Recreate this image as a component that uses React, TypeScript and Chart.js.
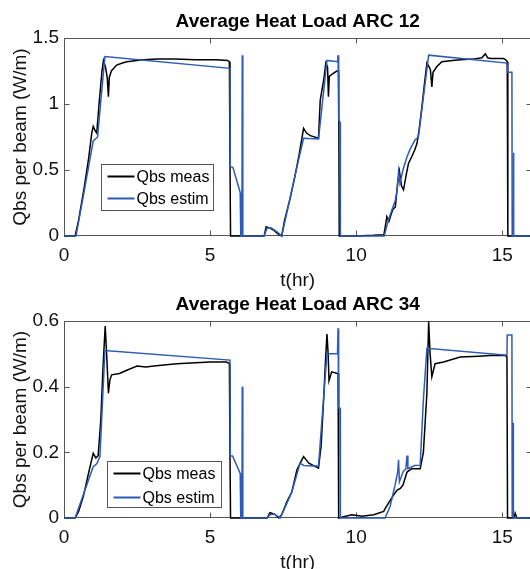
import React, { useEffect, useRef } from 'react';
import { Chart, registerables } from 'chart.js';

Chart.register(...registerables);

const FONT = "'Liberation Sans', Arial, Helvetica, sans-serif";

// ---------- shared axis / label data ----------
const X_TICKS = [0, 5, 10, 15];
const X_MIN = 0;
const X_MAX = 16;
const X_TITLE = 't(hr)';
const Y_TITLE = 'Qbs per beam (W/m)';
const SERIES_NAMES = ['Qbs meas', 'Qbs estim'];
const MEAS_COLOR = '#000000';
const EST_COLOR = '#2D5BB5';

// ---------- ARC 12 ----------
const ARC12_TITLE = 'Average Heat Load ARC 12';
const ARC12_Y_TICKS = [0, 0.5, 1, 1.5];
const ARC12_MEAS_T = [
  0, 0.38, 0.5, 0.7, 0.85, 0.95, 1.0, 1.06, 1.12, 1.2, 1.3, 1.35, 1.42, 1.48, 1.52, 1.55, 1.62, 1.8, 2.0, 2.15,
  2.7, 3.2, 3.8, 4.5, 5.2, 5.6, 5.66, 5.68, 5.7, 6.85, 6.92, 7.05, 7.2, 7.3, 7.45, 7.55, 7.74, 7.9, 8.05, 8.2,
  8.3, 8.43, 8.71, 8.77, 8.9, 8.96, 9.02, 9.05, 9.08, 9.2, 9.34, 9.4, 9.42, 10.0, 10.6, 10.95, 11.05, 11.12, 11.25, 11.34,
  11.42, 11.48, 11.55, 11.62, 11.7, 11.79, 11.9, 12.0, 12.08, 12.15, 12.25, 12.35, 12.42, 12.5, 12.54, 12.59, 12.63, 12.75, 12.93, 13.3,
  13.58, 14.0, 14.3, 14.42, 14.5, 14.6, 14.9, 15.05, 15.14, 15.17, 15.19, 16,
];
const ARC12_MEAS_V = [
  0, 0, 0.12, 0.38, 0.6, 0.78, 0.83, 0.8, 0.78, 1.0, 1.25, 1.33, 1.28, 1.2, 1.055, 1.2, 1.25, 1.295, 1.31, 1.32,
  1.335, 1.34, 1.34, 1.335, 1.335, 1.33, 1.32, 0.6, 0, 0, 0.07, 0.06, 0.04, 0.02, 0, 0.12, 0.285, 0.45, 0.62, 0.815,
  0.78, 0.76, 0.74, 1.03, 1.2, 1.31, 1.28, 1.055, 1.21, 1.23, 1.25, 1.25, 0, 0, 0.005, 0.01, 0.146, 0.11, 0.2, 0.22,
  0.4, 0.49, 0.38, 0.35, 0.45, 0.55, 0.6, 0.65, 0.7, 0.8, 0.98, 1.18, 1.31, 1.28, 1.26, 1.13, 1.24, 1.28, 1.32, 1.33,
  1.335, 1.34, 1.35, 1.38, 1.35, 1.345, 1.345, 1.345, 1.33, 1.32, 0, 0,
];
const ARC12_EST_T = [
  0, 0.41, 0.7, 1.0, 1.15, 1.25, 1.4, 5.68, 5.69, 5.78, 6.03, 6.05, 6.09, 6.1, 6.12, 6.85, 6.95, 7.1, 7.3, 7.45,
  7.7, 8.0, 8.2, 8.71, 9.0, 9.36, 9.38, 9.4, 9.45, 9.46, 10.96, 11.1, 11.34, 11.4, 11.45, 11.5, 11.6, 11.74, 11.85, 12.02,
  12.13, 12.48, 15.16, 15.18, 15.33, 15.34, 15.37, 15.38, 15.4, 16,
];
const ARC12_EST_V = [
  0, 0, 0.35, 0.72, 0.75, 1.0, 1.36, 1.27, 0.525, 0.52, 0.33, 0, 0, 1.37, 0, 0, 0.06, 0.06, 0.03, 0,
  0.25, 0.55, 0.74, 0.735, 1.33, 1.32, 1.37, 0.88, 0.86, 0, 0, 0.12, 0.27, 0.35, 0.49, 0.4, 0.5, 0.6, 0.66, 0.73,
  0.75, 1.37, 1.31, 1.24, 1.24, 0, 0, 0.63, 0, 0,
];

// ---------- ARC 34 ----------
const ARC34_TITLE = 'Average Heat Load ARC 34';
const ARC34_Y_TICKS = [0, 0.2, 0.4, 0.6];
const ARC34_MEAS_T = [
  0, 0.38, 0.5, 0.66, 0.85, 1.0, 1.09, 1.17, 1.26, 1.33, 1.41, 1.47, 1.52, 1.57, 1.63, 1.9, 2.15, 2.5, 2.8, 3.08,
  3.5, 3.86, 4.5, 5.0, 5.57, 5.66, 5.68, 5.7, 6.95, 7.05, 7.2, 7.35, 7.45, 7.63, 7.8, 7.97, 8.1, 8.2, 8.38, 8.71,
  8.8, 8.88, 8.95, 9.0, 9.04, 9.07, 9.16, 9.36, 9.38, 9.4, 9.85, 10.2, 10.6, 10.94, 11.0, 11.28, 11.4, 11.51, 11.6, 11.74,
  11.9, 12.19, 12.3, 12.42, 12.48, 12.53, 12.59, 12.7, 12.99, 13.56, 14.2, 14.7, 15.1, 15.16, 15.18, 15.4, 15.44, 15.5, 16,
];
const ARC34_MEAS_V = [
  0, 0, 0.02, 0.065, 0.14, 0.197, 0.183, 0.19, 0.3, 0.45, 0.585, 0.48, 0.38, 0.42, 0.436, 0.44, 0.45, 0.463, 0.46, 0.463,
  0.467, 0.47, 0.473, 0.475, 0.475, 0.47, 0.2, 0, 0, 0.016, 0.012, 0, 0.01, 0.05, 0.08, 0.146, 0.17, 0.187, 0.167, 0.152,
  0.22, 0.35, 0.48, 0.56, 0.5, 0.418, 0.445, 0.44, 0.44, 0, 0.01, 0.005, 0.01, 0.02, 0.03, 0.07, 0.085, 0.09, 0.1, 0.14,
  0.15, 0.15, 0.2, 0.38, 0.598, 0.5, 0.43, 0.47, 0.475, 0.49, 0.493, 0.496, 0.495, 0.49, 0, 0, 0.015, 0, 0,
];
const ARC34_EST_T = [
  0, 0.38, 1.0, 1.12, 1.23, 1.4, 5.68, 5.69, 5.77, 6.03, 6.05, 6.09, 6.1, 6.12, 6.95, 7.05, 7.2, 7.4, 7.63, 7.8,
  8.08, 8.2, 8.71, 8.88, 9.0, 9.36, 9.38, 9.4, 9.45, 9.46, 10.99, 11.16, 11.33, 11.42, 11.45, 11.48, 11.6, 11.7, 11.74, 11.77,
  12.0, 12.19, 12.3, 12.42, 15.16, 15.17, 15.33, 15.34, 15.36, 15.37, 15.38, 16,
];
const ARC34_EST_V = [
  0, 0, 0.156, 0.165, 0.187, 0.51, 0.481, 0.189, 0.189, 0.136, 0, 0, 0.4, 0, 0, 0.01, 0.012, 0, 0.045, 0.08,
  0.167, 0.16, 0.158, 0.36, 0.5, 0.5, 0.578, 0.334, 0.334, 0, 0, 0.035, 0.1, 0.14, 0.177, 0.11, 0.14, 0.15, 0.19, 0.15,
  0.16, 0.161, 0.36, 0.517, 0.496, 0.557, 0.557, 0, 0, 0.29, 0, 0,
];

// ---------- chart building ----------
const AXIS_COLOR = '#555555';
const TEXT_COLOR = '#111111';
const TICK_LEN = 5;

const matlabBox = {
  id: 'matlabBox',
  beforeDatasetsDraw(chart: any) {
    const { ctx, chartArea: a, scales } = chart;
    const xs = scales.x;
    const ys = scales.y;
    ctx.save();
    ctx.strokeStyle = AXIS_COLOR;
    ctx.lineWidth = 1;
    ctx.beginPath();
    const L = Math.round(a.left) + 0.5;
    const R = Math.round(a.right) - 0.5;
    const T = Math.round(a.top) + 0.5;
    const B = Math.round(a.bottom) - 0.5;
    ctx.moveTo(L, T); ctx.lineTo(R, T); ctx.lineTo(R, B); ctx.lineTo(L, B); ctx.closePath();
    xs.ticks.forEach((t: any) => {
      const px = Math.round(xs.getPixelForValue(t.value)) + 0.5;
      ctx.moveTo(px, B); ctx.lineTo(px, B - TICK_LEN);
      ctx.moveTo(px, T); ctx.lineTo(px, T + TICK_LEN);
    });
    ys.ticks.forEach((t: any) => {
      const py = Math.round(ys.getPixelForValue(t.value)) + 0.5;
      ctx.moveTo(L, py); ctx.lineTo(L + TICK_LEN, py);
      ctx.moveTo(R, py); ctx.lineTo(R - TICK_LEN, py);
    });
    ctx.stroke();
    ctx.restore();
  },
  afterDraw(chart: any, _args: any, opts: any) {
    const { ctx, chartArea: a } = chart;
    ctx.save();
    const lg = opts.legend;
    const bx = Math.round(a.left + lg.dx) + 0.5;
    const by = Math.round(a.top + lg.dy) + 0.5;
    ctx.fillStyle = '#ffffff';
    ctx.fillRect(bx, by, lg.w, lg.h);
    ctx.strokeStyle = '#555555';
    ctx.lineWidth = 1;
    ctx.strokeRect(bx, by, lg.w, lg.h);
    ctx.font = `16px ${FONT}`;
    ctx.textBaseline = 'middle';
    ctx.textAlign = 'left';
    chart.data.datasets.forEach((ds: any, i: number) => {
      const y = by + lg.rows[i];
      ctx.strokeStyle = ds.borderColor;
      ctx.lineWidth = 2;
      ctx.beginPath();
      ctx.moveTo(bx + 6, y);
      ctx.lineTo(bx + 33, y);
      ctx.stroke();
      ctx.fillStyle = '#000000';
      ctx.fillText(ds.label, bx + 35, y + 1);
    });
    ctx.restore();
  },
};

function zip(ts: number[], vs: number[]) {
  return ts.map((t, i) => ({ x: t, y: vs[i] }));
}

interface Spec {
  title: string;
  measT: number[]; measV: number[];
  estT: number[]; estV: number[];
  yTicks: number[];
  width: number; height: number;
  areaTop: number; areaBottom: number; areaLeft: number; areaRight: number;
  titlePadTop: number;
  xTitlePadBottom: number;
  legend: { dx: number; dy: number; w: number; h: number; rows: number[] };
}

function makeConfig(s: Spec): any {
  const titleLine = 22.8;
  const clip = { left: 2, top: 0, right: 2, bottom: 2 };
  return {
    type: 'line',
    data: {
      datasets: [
        {
          label: SERIES_NAMES[0], data: zip(s.measT, s.measV), borderColor: MEAS_COLOR,
          borderWidth: 1.5, pointRadius: 0, tension: 0, fill: false, order: 1, clip,
        },
        {
          label: SERIES_NAMES[1], data: zip(s.estT, s.estV), borderColor: EST_COLOR,
          borderWidth: 1.5, pointRadius: 0, tension: 0, fill: false, order: 0, clip,
        },
      ],
    },
    options: {
      responsive: false,
      animation: false,
      devicePixelRatio: 1,
      layout: { padding: { left: 0, top: 0, bottom: 0, right: s.width - s.areaRight }, autoPadding: false },
      plugins: {
        legend: { display: false },
        tooltip: { enabled: false },
        title: {
          display: true, text: s.title, color: '#000000', fullSize: false,
          font: { family: FONT, size: 19, weight: 'bold', lineHeight: 1.2 },
          padding: { top: s.titlePadTop, bottom: s.areaTop - s.titlePadTop - titleLine },
        },
        matlabBox: { legend: s.legend },
      },
      scales: {
        x: {
          type: 'linear', min: X_MIN, max: X_MAX,
          afterBuildTicks: (sc: any) => { sc.ticks = X_TICKS.map((value) => ({ value })); },
          afterFit: (sc: any) => { sc.height = s.height - s.areaBottom; sc.paddingLeft = 0; sc.paddingRight = 0; },
          grid: { display: false, drawTicks: false },
          border: { display: false },
          ticks: {
            color: TEXT_COLOR, padding: 8, maxRotation: 0, autoSkip: false,
            font: { family: FONT, size: 19 },
            callback: (v: any) => String(v),
          },
          title: {
            display: true, text: X_TITLE, color: TEXT_COLOR,
            font: { family: FONT, size: 19, lineHeight: 1.2 },
            padding: { top: 0, bottom: s.xTitlePadBottom },
          },
        },
        y: {
          type: 'linear', min: s.yTicks[0], max: s.yTicks[s.yTicks.length - 1],
          afterBuildTicks: (sc: any) => { sc.ticks = s.yTicks.map((value) => ({ value })); },
          afterFit: (sc: any) => { sc.width = s.areaLeft; sc.paddingTop = 0; sc.paddingBottom = 0; },
          grid: { display: false, drawTicks: false },
          border: { display: false },
          ticks: {
            color: TEXT_COLOR, padding: 5, autoSkip: false,
            font: { family: FONT, size: 19 },
            callback: (v: any) => String(v),
          },
          title: {
            display: true, text: Y_TITLE, color: TEXT_COLOR,
            font: { family: FONT, size: 19, lineHeight: 1.2 },
            padding: { top: 9, bottom: 0 },
          },
        },
      },
    },
    plugins: [matlabBox],
  };
}

const CANVAS_W = 545;

const TOP_SPEC: Spec = {
  title: ARC12_TITLE, measT: ARC12_MEAS_T, measV: ARC12_MEAS_V, estT: ARC12_EST_T, estV: ARC12_EST_V,
  yTicks: ARC12_Y_TICKS, width: CANVAS_W, height: 300,
  areaTop: 38, areaBottom: 236, areaLeft: 64, areaRight: 531.5,
  titlePadTop: 10.6, xTitlePadBottom: 7.6,
  legend: { dx: 37, dy: 126, w: 112, h: 46, rows: [12, 34] },
};

const BOTTOM_SPEC: Spec = {
  title: ARC34_TITLE, measT: ARC34_MEAS_T, measV: ARC34_MEAS_V, estT: ARC34_EST_T, estV: ARC34_EST_V,
  yTicks: ARC34_Y_TICKS, width: CANVAS_W, height: 290,
  areaTop: 36, areaBottom: 233, areaLeft: 64, areaRight: 531.5,
  titlePadTop: 8.6, xTitlePadBottom: 0.6,
  legend: { dx: 43, dy: 140, w: 114, h: 46, rows: [12, 36] },
};

function ChartCanvas({ spec, top }: { spec: Spec; top: number }) {
  const ref = useRef<HTMLCanvasElement | null>(null);
  useEffect(() => {
    if (!ref.current) return;
    const chart = new Chart(ref.current, makeConfig(spec));
    return () => chart.destroy();
  }, [spec]);
  return (
    <canvas
      ref={ref}
      width={spec.width}
      height={spec.height}
      style={{ position: 'absolute', left: 0, top, width: spec.width, height: spec.height }}
    />
  );
}

export default function App() {
  return (
    <div
      style={{
        position: 'fixed', left: 0, top: 0, width: 530, height: 569,
        overflow: 'hidden', background: '#ffffff',
      }}
    >
      <ChartCanvas spec={TOP_SPEC} top={0} />
      <ChartCanvas spec={BOTTOM_SPEC} top={285} />
    </div>
  );
}
